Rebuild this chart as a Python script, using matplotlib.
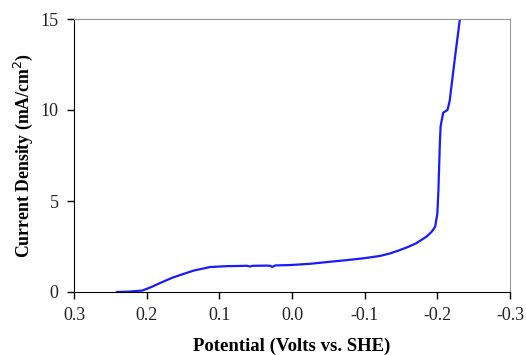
import numpy as np
import matplotlib.pyplot as plt

# potential (V vs. SHE) and current density (mA/cm2)
potential = [0.241, 0.225, 0.206, 0.195, 0.180, 0.165, 0.154, 0.135, 0.113, 0.090,
             0.062, 0.058, 0.054, 0.035, 0.030, 0.027, 0.023, 0.003, -0.025, -0.052,
             -0.075, -0.098, -0.121, -0.135, -0.148, -0.160, -0.171, -0.185, -0.192,
             -0.197, -0.200, -0.2015, -0.2025, -0.2035, -0.2045, -0.208, -0.214,
             -0.217, -0.224, -0.232]
current = [0.0, 0.02, 0.08, 0.25, 0.52, 0.78, 0.93, 1.18, 1.37, 1.42,
           1.44, 1.40, 1.44, 1.45, 1.44, 1.38, 1.46, 1.48, 1.55, 1.66,
           1.75, 1.85, 1.98, 2.12, 2.30, 2.48, 2.68, 3.04, 3.30,
           3.59, 4.30, 5.60, 6.90, 8.20, 9.10, 9.85, 10.0,
           10.5, 12.8, 15.3]

fig = plt.figure(figsize=(5.26, 3.55), dpi=100)
ax = fig.add_axes([74 / 526, 63 / 355, 436 / 526, 273 / 355])

ax.plot(potential, current, color='#1a1aff', linewidth=1.6)

ax.set_xlim(0.3, -0.3)
ax.set_ylim(0, 15)
ax.set_xticks(np.arange(0.3, -0.31, -0.1))
ax.set_xticklabels(['0.3', '0.2', '0.1', '0.0', '-0.1', '-0.2', '-0.3'])
ax.set_yticks([0, 5, 10, 15])

font = 'Liberation Serif'
for lab in ax.get_xticklabels() + ax.get_yticklabels():
    lab.set_fontfamily(font)
    lab.set_fontsize(13)
    lab.set_color('#222222')

ax.tick_params(direction='out', length=5, width=1, pad=6)
ax.spines['top'].set_color('#999999')
ax.spines['right'].set_color('#999999')
ax.spines['left'].set_color('black')
ax.spines['bottom'].set_color('black')

ax.set_xlabel('Potential (Volts vs. SHE)', fontfamily=font, fontweight='bold',
              fontsize=13.5, labelpad=10)
ax.set_ylabel('Current Density (mA/cm$^2$)', fontfamily=font, fontweight='bold',
              fontsize=12.8, labelpad=4)

plt.savefig('out.png', dpi=100)
